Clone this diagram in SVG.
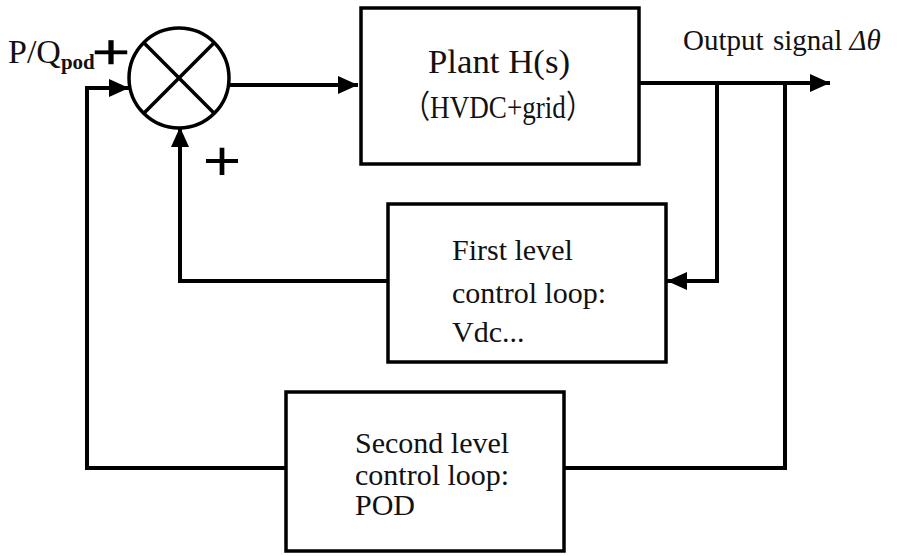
<svg xmlns="http://www.w3.org/2000/svg" width="901" height="556" viewBox="0 0 901 556">
<defs>
<style>
.box{fill:#fff;stroke:#000;stroke-width:3.5}
.ln{fill:none;stroke:#000;stroke-width:4}
.t{font-family:"Liberation Serif","Times New Roman",serif;font-size:30px;fill:#111}
.pl{font-family:"Liberation Sans",Arial,sans-serif;fill:#000;stroke:#000;stroke-width:0.4}
</style>
<marker id="ah" markerUnits="userSpaceOnUse" markerWidth="22" markerHeight="20" refX="20" refY="9" orient="auto">
<path d="M0,0 L20,9 L0,18 z" fill="#000"/>
</marker>
</defs>
<rect width="901" height="556" fill="#fff"/>
<g id="connectors">
<path class="ln" d="M229,85 H358" marker-end="url(#ah)"/>
<path class="ln" d="M640,83 H830" marker-end="url(#ah)"/>
<path class="ln" d="M717,83 V281 H667" marker-end="url(#ah)"/>
<path class="ln" d="M387,281 H180 V127" marker-end="url(#ah)"/>
<path class="ln" d="M785,83 V468 H565"/>
<path class="ln" d="M285,468 H87 V88 H129" marker-end="url(#ah)"/>
</g>
<g id="sum">
<circle cx="179" cy="78" r="50" fill="#fff" stroke="#000" stroke-width="3.5"/>
<path d="M143.6,42.6 L214.4,113.4 M214.4,42.6 L143.6,113.4" stroke="#000" stroke-width="3.5"/>
</g>
<g id="plant">
<rect class="box" x="361" y="8" width="278" height="156"/>
<text class="t" x="499" y="73" text-anchor="middle" style="font-size:34px" textLength="142" lengthAdjust="spacingAndGlyphs">Plant H(s)</text>
<text class="t" x="498" y="118" text-anchor="middle" style="font-size:32px;font-family:'Liberation Serif','Noto Sans CJK SC',serif" textLength="190" lengthAdjust="spacingAndGlyphs">（HVDC+grid）</text>
</g>
<g id="first">
<rect class="box" x="388" y="204" width="278" height="158"/>
<text class="t" x="452" y="260">First level</text>
<text class="t" x="452" y="303">control loop:</text>
<text class="t" x="452" y="342">Vdc...</text>
</g>
<g id="second">
<rect class="box" x="286" y="392" width="278" height="159"/>
<text class="t" x="355" y="453">Second level</text>
<text class="t" x="355" y="485">control loop:</text>
<text class="t" x="355" y="515">POD</text>
</g>
<g id="labels">
<text class="t" x="8" y="63" style="font-size:34px">P/Q<tspan font-weight="bold" font-size="21" dy="6">pod</tspan></text>
<text class="pl" transform="translate(111,51) scale(1,0.74)" x="0" y="23.5" text-anchor="middle" font-size="66">+</text>
<text class="pl" transform="translate(222,160) scale(1,0.85)" x="0" y="23.5" text-anchor="middle" font-size="66" style="stroke-width:0">+</text>
<text class="t" x="683" y="50" style="font-size:29px">Output</text>
<text class="t" x="773" y="50" style="font-size:29px">signal <tspan font-style="italic">Δθ</tspan></text>
</g>
</svg>
